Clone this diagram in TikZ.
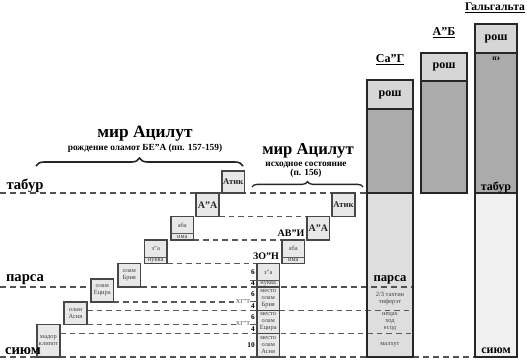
\documentclass[tikz,border=0pt]{standalone}
\usepackage{fontspec}
\setmainfont{Liberation Serif}
\usetikzlibrary{calc,decorations.pathreplacing}
\newcommand\fsz[2]{\fontsize{#1}{#2}\selectfont}
\definecolor{rosh}{HTML}{D6D6D6}
\definecolor{body}{HTML}{ABABAB}
\definecolor{lowA}{HTML}{DEDEDE}
\definecolor{lowB}{HTML}{F0F0F0}
\definecolor{boxf}{HTML}{E8E8E8}
\pgfdeclarelayer{back}
\pgfdeclarelayer{mid}
\pgfsetlayers{back,mid,main}
\begin{document}
\begin{tikzpicture}[x=0.75pt,y=-0.75pt,
  px/.style 2 args={minimum width=#1*0.75pt, minimum height=#2*0.75pt},
  sbox/.style={draw=black!72, line width=1pt, fill=boxf, inner sep=0pt, outer sep=0pt,
    anchor=north west, align=center, font=\fsz{4.8}{5.3}, text=black!75},
  bbox/.style={sbox, font=\bfseries\fsz{6.5}{7}, text=black!85},
  colp/.style={draw=black!85, line width=1.1pt, inner sep=0pt, outer sep=0pt, anchor=north west},
  colo/.style={draw=black!85, line width=1.1pt},
  divl/.style={draw=black!65, line width=0.6pt},
  ml/.style={draw=black!68, line width=1.2pt, dash pattern=on 4.5pt off 3pt},
  sl/.style={draw=black!65, line width=0.95pt, dash pattern=on 4.2pt off 3pt},
  tick/.style={draw=black!65, line width=0.7pt},
  lblL/.style={font=\bfseries\fsz{11}{12}, inner sep=0pt},
  collbl/.style={font=\bfseries\fsz{9}{10}, inner sep=0pt},
  tiny/.style={font=\fsz{4.8}{5.3}, inner sep=0pt, align=center, text=black!75},
  num/.style={font=\bfseries\fsz{5.5}{6}, inner sep=0pt},
  brc/.style={decorate, decoration={brace, amplitude=#1}, draw=black!85, line width=1.2pt}
]
\useasboundingbox (0,0) rectangle (527,361);

% ---------- columns ----------
\begin{pgfonlayer}{back}
\fill[white] (0,0) rectangle (527,361);
\node[colp, px={46}{29}, fill=rosh] (sagH) at (367,80) {};
\node[colp, px={46}{84}, fill=body] (sagB) at (367,109) {};
\node[colp, px={46}{164}, fill=lowA] (sagL) at (367,193) {};
\node[colp, px={46}{28}, fill=rosh] (abH) at (421,53) {};
\node[colp, px={46}{112}, fill=body] (abB) at (421,81) {};
\node[colp, px={42}{29}, fill=rosh] (galH) at (475,24) {};
\node[colp, px={42}{140}, fill=body] (galB) at (475,53) {};
\node[colp, px={42}{164}, fill=lowB] (galL) at (475,193) {};
\end{pgfonlayer}

% ---------- left staircase ----------
\node[bbox, px={22.5}{22}] (atikL) at (222,171) {Атик};
\node[bbox, px={23}{23.5}, font=\bfseries\fsz{7.5}{8}] (aaL) at (196,193) {А"А};
\node[sbox, px={22.5}{23.5}] (abaL) at (171,216.5) {};
\node[sbox, px={22.5}{23.5}] (zaL) at (144.5,240) {};
\node[sbox, px={22.5}{23.5}] (briL) at (118,263.5) {олам\\Брия};
\node[sbox, px={22.5}{23}] (yetL) at (91,279) {олам\\Ецира};
\node[sbox, px={23}{22.5}] (asL) at (64,302) {олам\\Асия};
\node[sbox, px={23}{32.5}] (madL) at (37,324.5) {мадор\\клипот};

% ---------- right staircase ----------
\node[bbox, px={23}{23.5}] (atikR) at (332,193) {Атик};
\node[bbox, px={22.5}{23.5}, font=\bfseries\fsz{7.5}{8}] (aaR) at (307,216.5) {А"А};
\node[sbox, px={22.5}{23.5}] (abaR) at (282,240) {};
\node[sbox, px={22.5}{23.5}] (zaR) at (257,263.5) {};
\node[sbox, px={22.5}{23.3}] (mbri) at (257,287) {место\\олам\\Брия};
\node[sbox, px={22.5}{23.3}] (mye) at (257,310.3) {место\\олам\\Ецира};
\node[sbox, px={22.5}{23.4}] (mas) at (257,333.6) {место\\олам\\Асия};

% dividers and texts of split boxes
\foreach \b in {abaL,zaL,abaR,zaR}{
  \draw[divl] ($(\b.north west)+(0,17)$) -- ($(\b.north east)+(0,17)$);
}
\node[tiny] at ($(abaL.north)+(0,8.5)$) {аба};
\node[tiny] at ($(abaL.north)+(0,20.4)$) {има};
\node[tiny] at ($(zaL.north)+(0,8.5)$) {з"а};
\node[tiny] at ($(zaL.north)+(0,20.4)$) {нуква};
\node[tiny] at ($(abaR.north)+(0,8.5)$) {аба};
\node[tiny] at ($(abaR.north)+(0,20.4)$) {има};
\node[tiny] at ($(zaR.north)+(0,8.5)$) {з"а};
\node[tiny] at ($(zaR.north)+(0,20.4)$) {нуква};

% ---------- labels near right staircase ----------
\node[font=\bfseries\fsz{7.5}{8}, inner sep=0pt] (avi) at (291,233.5) {АВ"И};
\node[font=\bfseries\fsz{7.5}{8}, inner sep=0pt] (zon) at (266,256.5) {ЗО"Н};
\node[num] (n1) at (253,272) {6};
\node[num] (n2) at (253,283.5) {4};
\node[num] (n3) at (253,294) {6};
\node[num] (n4) at (253,306) {4};
\node[num] (n5) at (253,317) {6};
\node[num] (n6) at (253,329.5) {4};
\node[num] (n7) at (251,345) {10};
\node[tiny, font=\fsz{4.5}{5}] (hgt1) at (243,301) {ХГ"Т};
\node[tiny, font=\fsz{4.5}{5}] (hgt2) at (243,323.5) {ХГ"Т};
\coordinate (k1) at (250,280);
\coordinate (k2) at (250,301);
\coordinate (k3) at (250,324);
\draw[tick] (k1) -- (zaR.west |- k1);
\draw[tick] (k2) -- (mbri.west |- k2);
\draw[tick] (k3) -- (mye.west |- k3);

% ---------- dashed level lines ----------
\coordinate (tabC) at (0,193);
\coordinate (parC) at (0,287);
\coordinate (siuC) at (0,357);
\begin{pgfonlayer}{mid}
\draw[ml] (tabC) -- (sagL.north west);
\draw[ml] (parC) -- (yetL.west |- parC);
\draw[ml] (briL.south east) -- (sagL.east |- briL.south east);
\draw[sl] (aaL.south east) -- (aaR.north west);
\draw[sl] (abaL.south east) -- (abaR.north west);
\draw[sl] (zaL.south east) -- (zaR.north west);
\draw[sl] (yetL.south east) -- (hgt1.west |- yetL.south east);
\draw[sl] (asL.east |- mye.north west) -- (sagL.east |- mye.north west);
\draw[sl] (asL.south east) -- (hgt2.west |- asL.south east);
\draw[sl] (madL.east |- mas.north west) -- (sagL.east |- mas.north west);
\draw[ml] (siuC) -- (sagL.south west);
\draw[ml] (sagL.south east) -- (galL.south west);
\end{pgfonlayer}

% column outlines over lines
\draw[colo] (sagH.north west) rectangle (sagL.south east);
\draw[colo] (sagH.south west) -- (sagH.south east);
\draw[colo] (sagB.south west) -- (sagB.south east);
\draw[colo] (abH.north west) rectangle (abB.south east);
\draw[colo] (abH.south west) -- (abH.south east);
\draw[colo] (galH.north west) rectangle (galL.south east);
\draw[colo] (galH.south west) -- (galH.south east);
\draw[colo] (galB.south west) -- (galB.south east);

% ---------- column texts ----------
\node[collbl] (sagT) at (390,60) {\underline{Са"Г}};
\node[collbl] (abT) at (444,33) {\underline{А"Б}};
\node[collbl, font=\bfseries\fsz{8.7}{10}] (galT) at (495,8) {\underline{Гальгальта}};
\node[collbl] at (sagH.center) {рош};
\node[collbl] at (abH.center) {рош};
\node[collbl] at (galH.center) {рош};
\node[num, font=\bfseries\fsz{5.5}{6}] at (496,58.5) {пэ};
\node[collbl, font=\bfseries\fsz{9.5}{10}] at (390,280) {парса};
\node[tiny] at (390,298.5) {2/3 тахтин\\тиферэт};
\node[tiny] at (390,322) {нецах\\ход\\есод};
\node[tiny] at (390,345) {малхут};
\node[collbl] at (496,187) {табур};
\node[collbl] at (496,351) {сиюм};

% ---------- left level labels ----------
\node[lblL] (tabT) at (25,186) {табур};
\node[lblL] (parT) at (25,280) {парса};
\node[lblL] (siuT) at (23,351) {сиюм};

% ---------- titles and braces ----------
\node[font=\bfseries\fsz{13}{14}, inner sep=0pt] (titL) at (145,134) {мир Ацилут};
\node[font=\bfseries\fsz{7}{8}, inner sep=0pt] (subL) at (145,148.5) {рождение оламот БЕ"А (пп. 157-159)};
\node[font=\bfseries\fsz{12.5}{13}, inner sep=0pt] (titR) at (308,151) {мир Ацилут};
\node[font=\bfseries\fsz{7}{7}, inner sep=0pt, align=center] (subR) at (306,170) {исходное состояние\\(п. 156)};
\coordinate (bL1) at (36,166);
\coordinate (bL2) at (243,166);
\coordinate (bR1) at (252,187);
\coordinate (bR2) at (363,187);
\draw[brc=6pt] (bL1) -- (bL2);
\draw[brc=4pt, line width=1pt] (bR1) -- (bR2);
\end{tikzpicture}
\end{document}
